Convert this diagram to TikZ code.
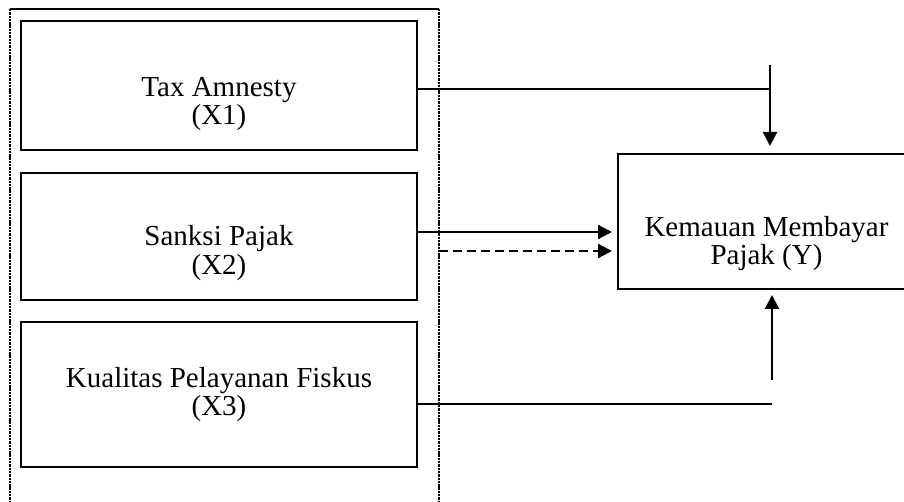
\documentclass[tikz,border=0pt]{standalone}
\usepackage{fontspec}
\setmainfont{Liberation Serif}
\usetikzlibrary{arrows.meta}
\tikzset{
  boxx/.style={draw, line width=1.5pt, minimum width=396pt, inner sep=0pt},
  lbl/.style={align=center, inner sep=0pt, font=\fontsize{29}{28.5}\selectfont},
  thinline/.style={line width=1.5pt},
  arr/.style={line width=2.2pt, -{Triangle[length=14pt,width=14pt]}},
  frame/.style={line width=2pt, dash pattern=on 2.4pt off 0.9pt}
}
\begin{document}
\begin{tikzpicture}[x=1pt,y=-1pt]
\useasboundingbox (0,0) rectangle (904,502);
\clip (0,0) rectangle (904,502);
% outer dotted frame
\coordinate (ftl) at (10,9);
\coordinate (ftr) at (439,9);
\coordinate (fbl) at (10,504);
\coordinate (fbr) at (439,504);
\draw[line width=2pt] (ftl) -- (ftr);
\draw[frame] (ftl) -- (fbl);
\draw[frame] (ftr) -- (fbr);
% boxes
\node[boxx, minimum height=129pt] (x1) at (219,85.5) {};
\node[boxx, minimum height=127pt] (x2) at (219,236.5) {};
\node[boxx, minimum height=145pt] (x3) at (219,394.5) {};
\node[draw, line width=1.5pt, minimum width=297pt, minimum height=135pt, inner sep=0pt] (y) at (766.5,221.5) {};
% labels
\node[lbl] (t1) at (219,104) {Tax Amnesty\\(X1)};
\node[lbl] (t2) at (219,253) {Sanksi Pajak\\(X2)};
\node[lbl] (t3) at (219,394.5) {Kualitas Pelayanan Fiskus\\(X3)};
\node[lbl] (ty) at (766.5,243.5) {Kemauan Membayar\\Pajak (Y)};
% connectors
\coordinate (a1) at (770,89);
\coordinate (a1top) at (770,65);
\coordinate (a1tip) at (770,146);
\draw[thinline] (x1.east |- a1) -- (a1);
\draw[arr] (a1top) -- (a1tip);
\coordinate (a2) at (612,232);
\draw[arr] (x2.east |- a2) -- (a2);
\coordinate (d2s) at (439,251);
\coordinate (d2e) at (612,251);
\draw[arr, dash pattern=on 9pt off 5pt] (d2s) -- (d2e);
\coordinate (a3) at (772,404);
\coordinate (a3bot) at (772,380);
\coordinate (a3tip) at (772,295);
\draw[thinline] (x3.east |- a3) -- (a3);
\draw[arr] (a3bot) -- (a3tip);
\end{tikzpicture}
\end{document}
